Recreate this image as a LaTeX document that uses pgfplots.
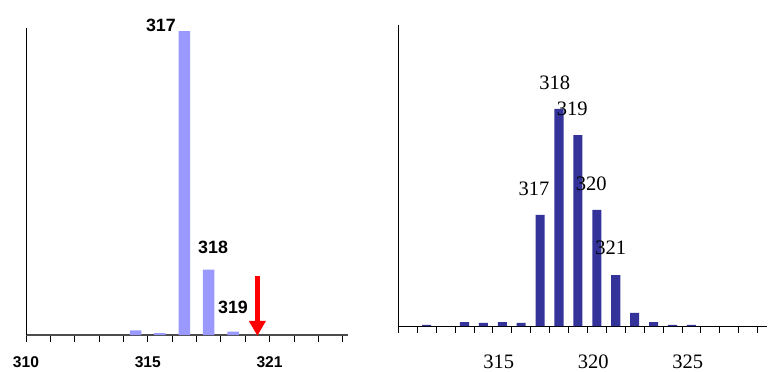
\documentclass[border=0pt]{standalone}
\usepackage{pgfplots}
\pgfplotsset{compat=1.18}
\usetikzlibrary{arrows.meta}
\usepackage{fontspec}
\setmainfont{Liberation Serif}
\newfontfamily\arialfont{Liberation Sans}
\definecolor{lightbar}{HTML}{9999FF}
\definecolor{darkbar}{HTML}{333399}
\begin{document}
\begin{tikzpicture}
\path[use as bounding box] (0,0) rectangle (768bp,372bp);
% Left panel
\begin{axis}[
  at={(26bp,37bp)}, anchor=south west, scale only axis,
  width=322bp, height=307bp,
  xmin=310.5, xmax=323.72, ymin=0, ymax=101,
  axis x line=bottom, axis y line=left,
  x axis line style={-, draw=black!70, line width=1.3bp},
  y axis line style={-, draw=black, line width=0.8bp},
  ytick=\empty,
  xtick={310.5,311.5,...,323.5},
  xticklabels={310,,,,,315,,,,,321,,,},
  tick align=outside, major tick length=7bp,
  x tick style={black, line width=0.8bp},
  xticklabel style={font=\arialfont\bfseries\fontsize{15.6bp}{18bp}\selectfont, anchor=center, yshift=-20bp},
  clip=false,
]
\addplot[ybar, fill=lightbar, draw=none, bar width=0.47] coordinates {
  (315,1.5) (316,0.6) (317,100) (318,21.5) (319,1.1)};
\begin{scope}[font=\arialfont\bfseries\fontsize{17.8bp}{20bp}\selectfont]
\node at (axis cs:316.04,102) {317};
\node at (axis cs:318.18,28.95) {318};
\node at (axis cs:319.0,9.2) {319};
\end{scope}
\draw[red, line width=4.7bp, -{Triangle[width=16bp,length=15bp]}] (axis cs:320,19.4) -- (axis cs:320,-0.3);
\end{axis}
% Right panel
\begin{axis}[
  at={(398.3bp,46bp)}, anchor=south west, scale only axis,
  width=368.7bp, height=301bp,
  xmin=309.5, xmax=329, ymin=0, ymax=138.7,
  axis x line=bottom, axis y line=left,
  axis line style={-, draw=black, line width=0.8bp},
  ytick=\empty,
  xtick={309.5,310.5,...,328.5},
  xticklabels={},
  tick align=outside, major tick length=7bp,
  x tick style={black, line width=0.8bp},
  extra x ticks={314.81,319.81,324.81},
  extra x tick labels={315,320,325},
  extra x tick style={major tick length=0pt},
  xticklabel style={font=\fontsize{20.5bp}{24bp}\selectfont, anchor=center, yshift=-36bp},
  clip=false,
]
\addplot[ybar, fill=darkbar, draw=none, bar width=0.48] coordinates {
  (311,0.5) (313,1.8) (314,1.4) (315,1.8) (316,1.4) (317,51.2) (318,100)
  (319,88) (320,53.5) (321,23.5) (322,6) (323,1.8) (324,0.5) (325,0.5)};
\begin{scope}[font=\fontsize{20.5bp}{24bp}\selectfont]
\node at (axis cs:317.77,112.1) {318};
\node at (axis cs:318.7,100.3) {319};
\node at (axis cs:316.68,63) {317};
\node at (axis cs:319.71,65.4) {320};
\node at (axis cs:320.73,35.8) {321};
\end{scope}
\end{axis}
\end{tikzpicture}
\end{document}
